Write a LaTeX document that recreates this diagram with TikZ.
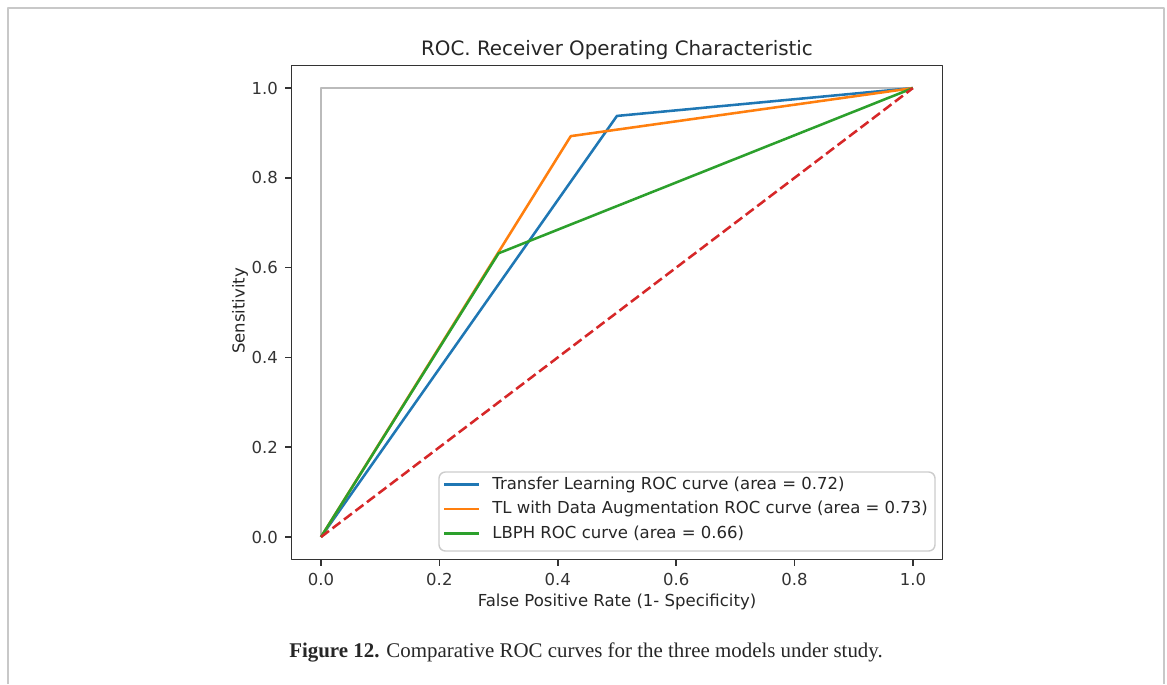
\documentclass[tikz,border=0pt]{standalone}
\usepackage{fontspec}
\setmainfont{DejaVu Sans}
\newfontfamily\capfont{Liberation Serif}
\usetikzlibrary{positioning}

\definecolor{mplblue}{HTML}{1F77B4}
\definecolor{mplorange}{HTML}{FF7F0E}
\definecolor{mplgreen}{HTML}{2CA02C}
\definecolor{mplred}{HTML}{D62728}
\definecolor{refgray}{HTML}{BBBBBB}
\definecolor{framegray}{HTML}{C8C8C8}
\definecolor{leggray}{HTML}{CCCCCC}

\begin{document}
\begin{tikzpicture}[x=0.02cm,y=-0.02cm,line join=round,text=black!85]
  \tikzstyle{curve}=[line width=1.45pt]
  \tikzstyle{spine}=[line width=0.85pt,black!80]
  \tikzstyle{plaintext}=[inner sep=0pt,font=\fontsize{9.4}{11}\selectfont]

  \useasboundingbox (0,0) rectangle (1167,684);

  % outer frame
  \draw[framegray,line width=0.8pt] (8,684) -- (8,8) -- (1164,8) -- (1164,684);

  % data area: origin at (0,0), unit square
  \begin{scope}[shift={(321,537)},x=11.84cm,y=8.98cm]
    \draw[curve,refgray] (0,0) -- (0,1) -- (1,1);
    \draw[curve,mplblue] (0,0) -- (0.5,0.938) -- (1,1);
    \draw[curve,mplorange] (0,0) -- (0.422,0.893) -- (1,1);
    \draw[curve,mplgreen] (0,0) -- (0.30,0.632) -- (1,1);
    \draw[curve,mplred,dash pattern=on 5.7pt off 2.5pt] (0,0) -- (1,1);

    % axes
    \draw[spine] (-0.05,-0.05) rectangle (1.05,1.05);
    \foreach \v [count=\i] in {0.0,0.2,0.4,0.6,0.8,1.0} {
      \draw[spine] (\v,-0.05) -- ++(0,-3.6pt)
        node[plaintext,below=3.6pt] (xt\i) {\v};
      \draw[spine] (-0.05,\v) -- ++(-3.6pt,0)
        node[plaintext,left=3.6pt] (yt\i) {\v};
    }
  \end{scope}

  % labels
  \node[anchor=base,inner sep=0pt,font=\fontsize{11.3}{13}\selectfont] (title) at (617,55)
    {ROC. Receiver Operating Characteristic};
  \node[plaintext] (xlab) at (617,602) {False Positive Rate (1- Specificity)};
  \node[plaintext,rotate=90] (ylab) at (240,311) {Sensitivity};

  % legend
  \draw[leggray,fill=white,fill opacity=0.8,line width=0.8pt,rounded corners=3.6pt]
    (439,472) rectangle (935,551);
  \foreach \c/\t [count=\i] in {mplblue/Transfer Learning ROC curve (area = 0.72),
      mplorange/TL with Data Augmentation ROC curve (area = 0.73),
      mplgreen/LBPH ROC curve (area = 0.66)} {
    \coordinate (l\i) at (444,460+24.5*\i);
    \draw[curve,\c] (l\i) -- ++(35,0);
    \node[plaintext,anchor=west] (leg\i) at (492,460+24.5*\i) {\t};
  }

  % caption
  \node[anchor=base,inner sep=0pt,font=\capfont\fontsize{11.9}{14}\selectfont] (caption) at (586,657)
    {\textbf{Figure 12.} Comparative ROC curves for the three models under study.};
\end{tikzpicture}
\end{document}
